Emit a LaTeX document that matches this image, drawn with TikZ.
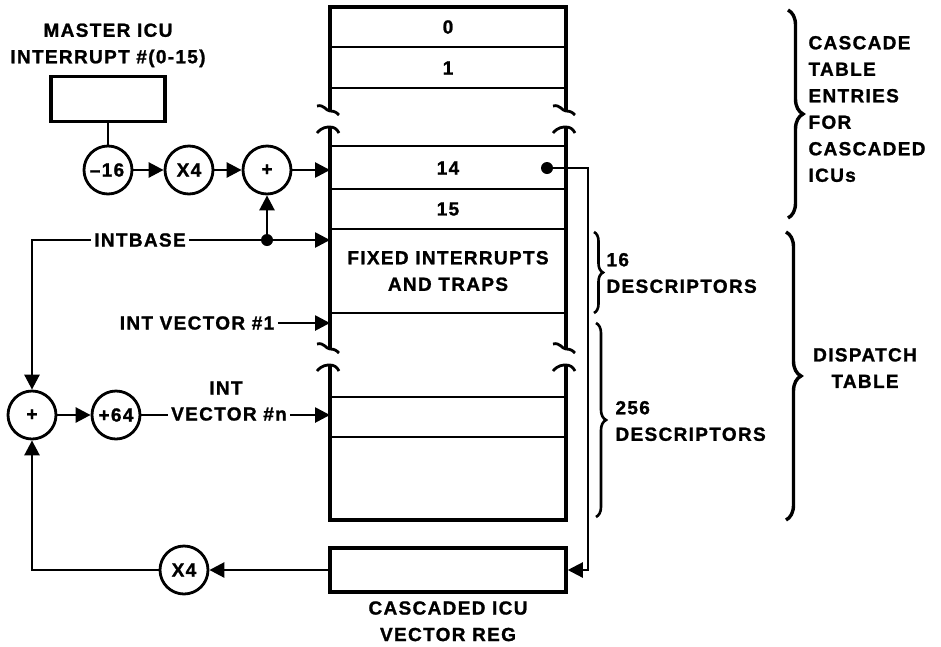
\documentclass[tikz,border=0pt]{standalone}
\usepackage{fontspec}
\setmainfont{Liberation Sans}[LetterSpace=7, BoldFeatures={FakeBold=1.2}]
\usetikzlibrary{arrows.meta, positioning, decorations.pathreplacing}

% cut marks on the table edges
\newcommand\cuttop[2]{\draw[line width=2.8pt] (#1-13,#2-3) .. controls (#1-6,#2-5) and (#1-4,#2+2) .. (#1,#2+2) .. controls (#1+4,#2+2) and (#1+6,#2+3) .. (#1+9,#2+6);}
\newcommand\cutbot[2]{\draw[line width=2.8pt] (#1-13,#2+3) .. controls (#1-8,#2-3) and (#1-3,#2-3) .. (#1,#2-3) .. controls (#1+4,#2-3) and (#1+7,#2-1) .. (#1+9,#2+3);}

\tikzset{
  wire/.style={line width=2.7pt},
  feed/.style={wire, -{Triangle[length=15pt,width=15pt]}},
  op/.style={circle, draw, line width=2.8pt, minimum size=48pt, inner sep=0pt},
  reg/.style={draw, line width=3.5pt},
  tag/.style={align=center},
  cbrace/.style={decorate, decoration={brace, amplitude=#1}, line width=2.6pt},
}

\begin{document}
\begin{tikzpicture}[x=1pt, y=-1pt, every node/.style={font=\bfseries\fontsize{19}{26.5}\selectfont}]
\useasboundingbox (0,0) rectangle (941,646);

% dispatch table
\draw[line width=3.4pt] (330,111) -- (330,7) -- (566,7) -- (566,111);
\draw[line width=3.4pt] (330,127) -- (330,349);
\draw[line width=3.4pt] (566,127) -- (566,349);
\draw[line width=3.4pt] (330,365) -- (330,520) -- (566,520) -- (566,365);
\foreach \y in {47,88,146,189,229,313,397,437}
  \draw[wire] (330,\y) -- (566,\y);
\cuttop{330}{109} \cuttop{566}{109} \cutbot{330}{130} \cutbot{566}{130}
\cuttop{330}{347} \cuttop{566}{347} \cutbot{330}{368} \cutbot{566}{368}
\coordinate (tblL) at (330,0);

\node (r0) at (448,27) {0};
\node (r1) at (448,68) {1};
\node (r14) at (448,168) {14};
\node (r15) at (448,209) {15};
\node[tag] (fixed) at (448,271) {FIXED INTERRUPTS\\AND TRAPS};

% master ICU path
\node[reg, minimum width=114pt, minimum height=45pt] (master) at (108,99) {};
\node[tag, above=4pt of master] (masterlbl) {MASTER ICU\\INTERRUPT \#(0-15)};
\node[op] (sub16) at (108,170) {\kern-2pt–16};
\node[op] (mul4) at (189,170) {X4};
\node[op] (addhi) at (267,170) {+};
\draw[wire] (master) -- (sub16);
\draw[feed] (sub16) -- (mul4);
\draw[feed] (mul4) -- (addhi);
\draw[feed] (addhi) -- (addhi -| tblL);

% intbase
\node (intbase) at (140,240) {INTBASE};
\coordinate (tap) at (267,240);
\draw[wire] (intbase) -- (tap);
\draw[feed] (tap) -- (tap -| tblL);
\draw[feed] (tap) -- (addhi);
\fill (tap) circle (6pt);

% vectors
\node (vec1) at (197,323) {INT VECTOR \#1};
\draw[feed] (vec1) -- (vec1 -| tblL);

\node[op] (addlo) at (32,415) {+};
\node[op] (plus64) at (116,415) {+64};
\node (vecn) at (229,414) {VECTOR \#n};
\node (vecint) at (226,388) {INT};
\draw[feed] (intbase) -| (addlo);
\draw[feed] (addlo) -- (plus64);
\draw[wire] (plus64) -- (plus64 -| vecn.west);
\draw[feed] (vecn.east |- plus64) -- (plus64 -| tblL);

% cascaded vector register
\node[reg, minimum width=236pt, minimum height=44pt] (vreg) at (448,570) {};
\node[tag, below=4pt of vreg] (vreglbl) {CASCADED ICU\\VECTOR REG};
\node[op] (mul4b) at (184,570) {X4};
\draw[feed] (vreg) -- (mul4b);
\draw[feed] (mul4b) -| (addlo);

\coordinate (dot14) at (547,168);
\fill (dot14) circle (6pt);
\draw[line width=2.2pt, -{Triangle[length=15pt,width=15pt]}] (dot14) -- ++(41,0) |- (vreg.east);

% braces
\draw[cbrace=9pt] (594,232) -- (594,313);
\node[tag, align=left, anchor=west] (d16) at (603,273) {16\\DESCRIPTORS};
\draw[cbrace=10pt] (596,323) -- (596,517);
\node[tag, align=left, anchor=west] (d256) at (612,421) {256\\DESCRIPTORS};
\draw[cbrace=15pt, line width=3.4pt] (788,10) -- (788,218);
\node[tag, align=left, anchor=west] (cascade) at (805,109) {CASCADE\\TABLE\\ENTRIES\\FOR\\CASCADED\\ICUs};
\draw[cbrace=15pt, line width=3.4pt] (786,232) -- (786,520);
\node[tag] (dispatch) at (865,368) {DISPATCH\\TABLE};
\end{tikzpicture}
\end{document}
